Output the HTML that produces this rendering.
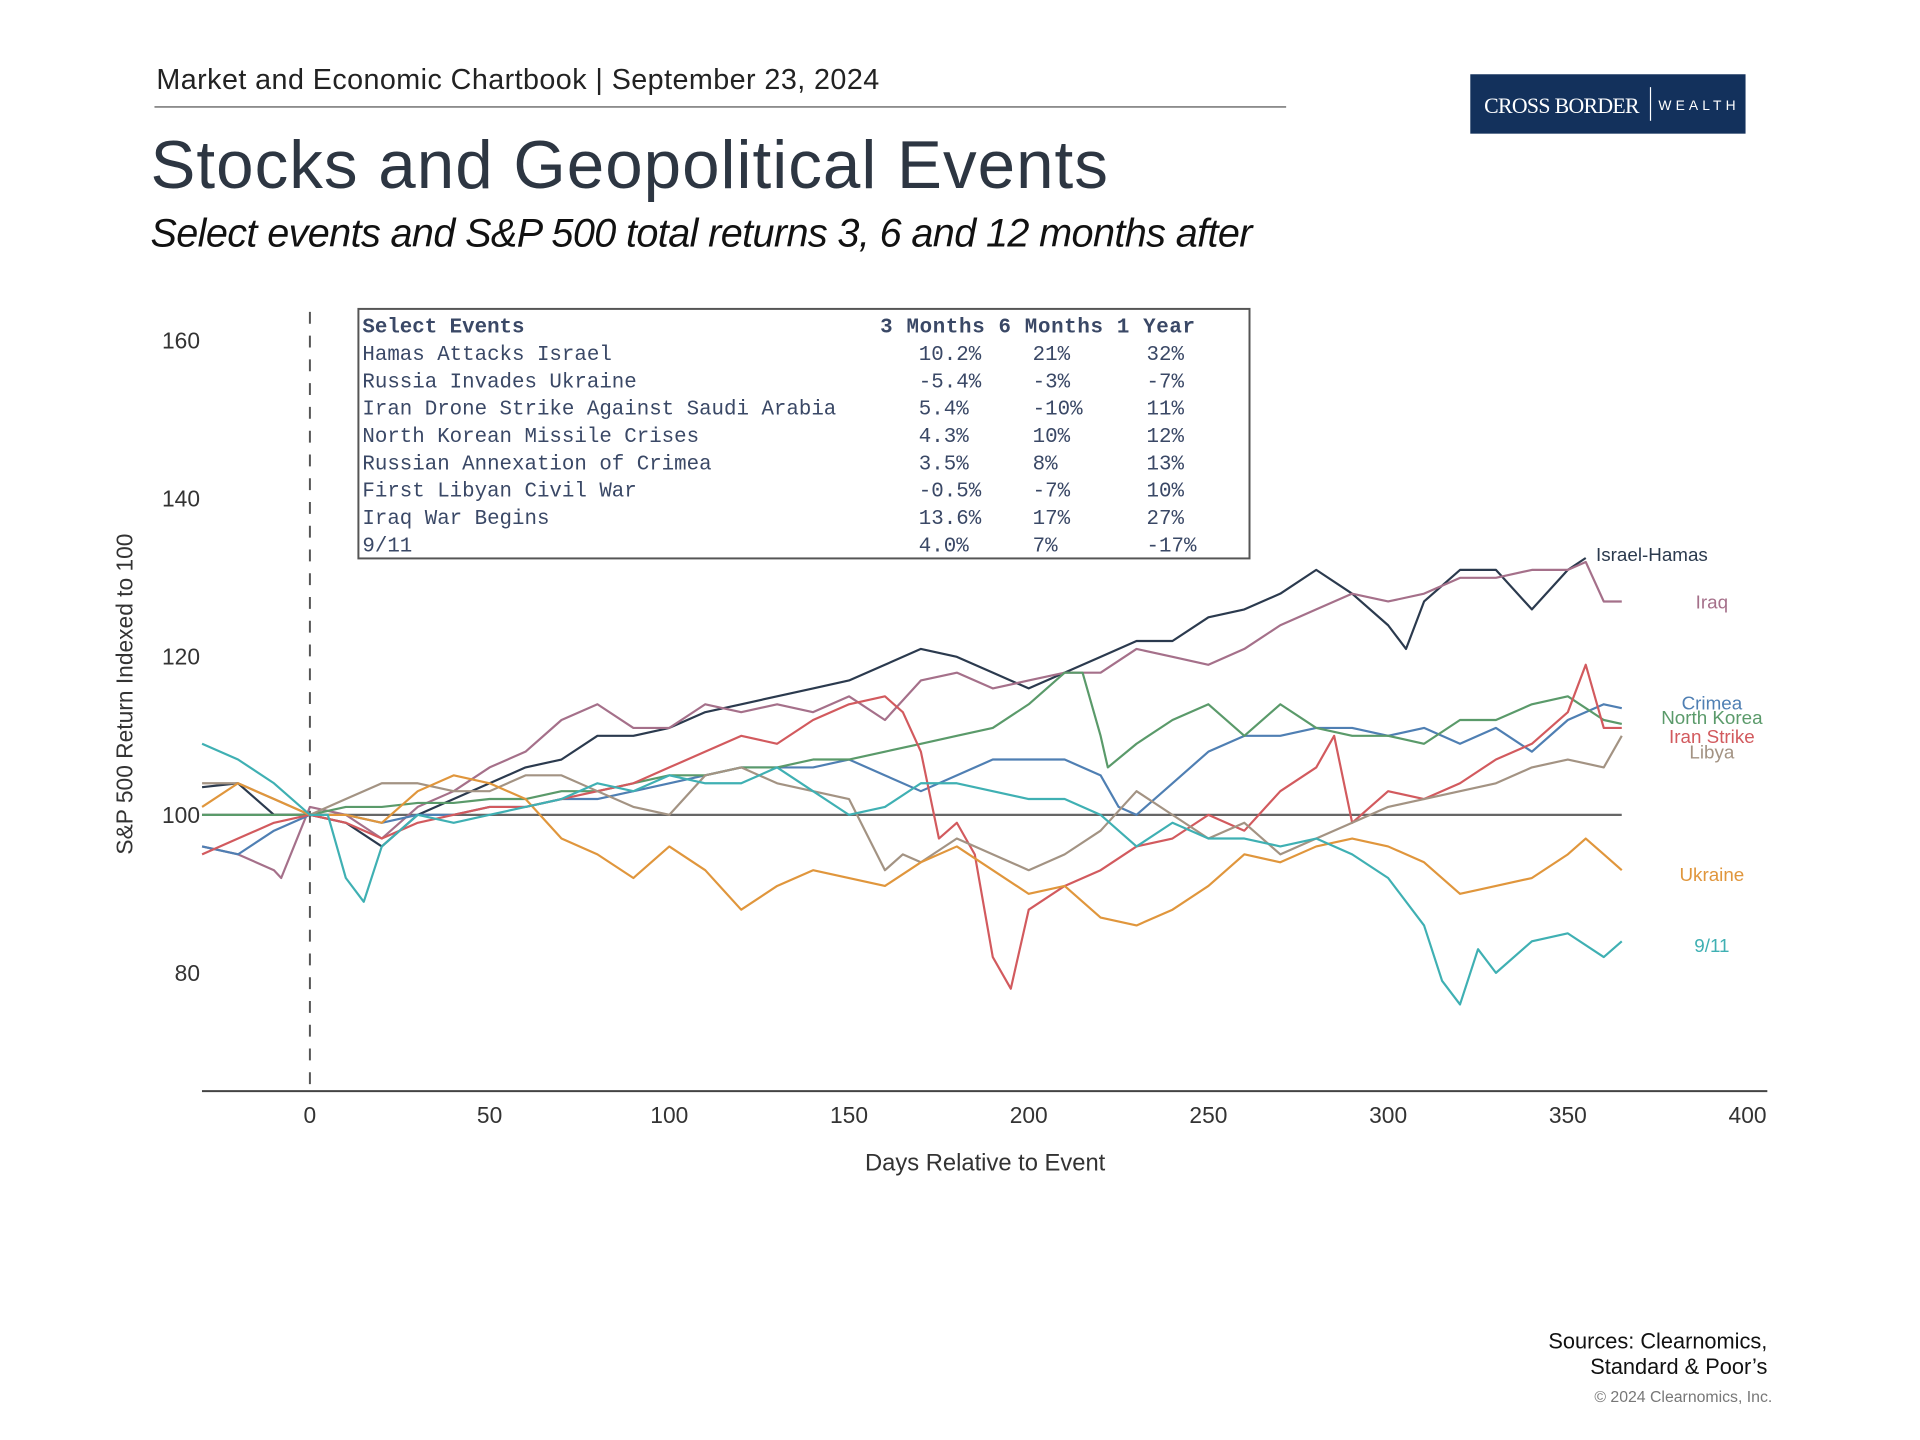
<!DOCTYPE html>
<html><head><meta charset="utf-8"><style>
html,body{margin:0;padding:0;background:#fff;}
svg{display:block;font-family:"Liberation Sans",sans-serif;}
</style></head><body>
<svg id="page" width="1920" height="1440" viewBox="0 0 1920 1440">
<g transform="scale(0.9901)">
<text x="158" y="90" font-size="29" fill="#222" textLength="730">Market and Economic Chartbook | September 23, 2024</text>
<line x1="156" y1="108" x2="1299" y2="108" stroke="#666" stroke-width="1.5"/>
<g>
<rect x="1485" y="75" width="278" height="60" fill="#13315c"/>
<text x="1499" y="114" font-family="Liberation Serif,serif" font-size="22" fill="#fff" textLength="157">CROSS BORDER</text>
<line x1="1667" y1="88" x2="1667" y2="122" stroke="#fff" stroke-width="1.2"/>
<text x="1675" y="111" font-size="14" fill="#fff" textLength="78">WEALTH</text>
</g>
<text x="152" y="190" font-size="68" fill="#2d3642" textLength="967">Stocks and Geopolitical Events</text>
<text x="152" y="249" font-size="40" font-style="italic" fill="#111" textLength="1113">Select events and S&amp;P 500 total returns 3, 6 and 12 months after</text>

<g id="axes"></g>
<g id="series"></g>

<g font-family="Liberation Mono,monospace" font-size="21" fill="#3a4866">
<rect x="362" y="312" width="900" height="252" fill="#fff" stroke="#555" stroke-width="2"/>
<g id="tablerows"></g>
</g>

<text x="1785" y="1362" font-size="22" text-anchor="end" fill="#111">Sources: Clearnomics,</text>
<text x="1785" y="1388" font-size="22" text-anchor="end" fill="#111">Standard &amp; Poor’s</text>
<text x="1790" y="1416" font-size="16" text-anchor="end" fill="#777">© 2024 Clearnomics, Inc.</text>
</g>
</svg>
<script>
const NS='http://www.w3.org/2000/svg';
const xTicks=[0,50,100,150,200,250,300,350,400];
const yTicks=[80,100,120,140,160];
const seriesNames=['Israel-Hamas','Iraq','Crimea','North Korea','Iran Strike','Libya','Ukraine','9/11'];
const seriesColors=['#2b3a4e','#a5708a','#4f7fb3','#5a9a6a','#d25a5e','#a39383','#e0963c','#3fb0b3'];
const daysIsrael=[-30,-20,-10,0,10,20,30,40,50,60,70,80,90,100,110,120,130,140,150,160,170,180,190,200,210,220,230,240,250,260,270,280,290,300,305,310,320,330,340,350,355];
const valsIsrael=[103.5,104,100,100,99,96,100,102,104,106,107,110,110,111,113,114,115,116,117,119,121,120,118,116,118,120,122,122,125,126,128,131,128,124,121,127,131,131,126,131,132.5];
const daysIraq=[-30,-20,-10,-8,0,10,20,30,40,50,60,70,80,90,100,110,120,130,140,150,160,170,180,190,200,210,220,230,240,250,260,270,280,290,300,310,320,330,340,350,355,360,365];
const valsIraq=[96,95,93,92,101,100,97,101,103,106,108,112,114,111,111,114,113,114,113,115,112,117,118,116,117,118,118,121,120,119,121,124,126,128,127,128,130,130,131,131,132,127,127];
const daysCrimea=[-30,-20,-10,0,10,20,30,40,50,60,70,80,90,100,110,120,130,140,150,160,170,180,190,200,210,220,225,230,240,250,260,270,280,290,300,310,320,330,340,350,360,365];
const valsCrimea=[96,95,98,100,100,99,100,100,101,101,102,102,103,104,105,106,106,106,107,105,103,105,107,107,107,105,101,100,104,108,110,110,111,111,110,111,109,111,108,112,114,113.5];
const daysKorea=[-30,-20,-10,0,10,20,30,40,50,60,70,80,90,100,110,120,130,140,150,160,170,180,190,200,210,215,220,222,230,240,250,260,270,280,290,300,310,320,330,340,350,360,365];
const valsKorea=[100,100,100,100,101,101,101.5,101.5,102,102,103,103,104,105,105,106,106,107,107,108,109,110,111,114,118,118,110,106,109,112,114,110,114,111,110,110,109,112,112,114,115,112,111.5];
const daysIran=[-30,-20,-10,0,10,20,30,40,50,60,70,80,90,100,110,120,130,140,150,160,165,170,175,180,185,190,195,200,210,220,230,240,250,260,270,280,285,290,300,310,320,330,340,350,355,360,365];
const valsIran=[95,97,99,100,99,97,99,100,101,101,102,103,104,106,108,110,109,112,114,115,113,108,97,99,95,82,78,88,91,93,96,97,100,98,103,106,110,99,103,102,104,107,109,113,119,111,111];
const daysLibya=[-30,-20,-10,0,10,20,30,40,50,60,70,80,90,100,110,120,130,140,150,160,165,170,180,190,200,210,220,230,240,250,260,270,280,290,300,310,320,330,340,350,360,365];
const valsLibya=[104,104,102,100,102,104,104,103,103,105,105,103,101,100,105,106,104,103,102,93,95,94,97,95,93,95,98,103,100,97,99,95,97,99,101,102,103,104,106,107,106,110];
const daysUkraine=[-30,-20,-10,0,10,20,30,40,50,60,70,80,90,100,110,120,130,140,150,160,170,180,190,200,210,220,230,240,250,260,270,280,290,300,310,320,330,340,350,355,360,365];
const valsUkraine=[101,104,102,100,100,99,103,105,104,102,97,95,92,96,93,88,91,93,92,91,94,96,93,90,91,87,86,88,91,95,94,96,97,96,94,90,91,92,95,97,95,93];
const days911=[-30,-20,-10,0,5,10,15,20,30,40,50,60,70,80,90,100,110,120,130,140,150,160,170,180,190,200,210,220,230,240,250,260,270,280,290,300,310,315,320,325,330,340,350,360,365];
const vals911=[109,107,104,100,100,92,89,96,100,99,100,101,102,104,103,105,104,104,106,103,100,101,104,104,103,102,102,100,96,99,97,97,96,97,95,92,86,79,76,83,80,84,85,82,84];
const seriesDays=[daysIsrael,daysIraq,daysCrimea,daysKorea,daysIran,daysLibya,daysUkraine,days911];
const seriesVals=[valsIsrael,valsIraq,valsCrimea,valsKorea,valsIran,valsLibya,valsUkraine,vals911];
const seriesLabelValues=[133,127,114.2,112.4,110,108,92.5,83.5];
const tableHeader=['Select Events','3 Months','6 Months','1 Year'];
const tableEvents=['Hamas Attacks Israel','Russia Invades Ukraine','Iran Drone Strike Against Saudi Arabia','North Korean Missile Crises','Russian Annexation of Crimea','First Libyan Civil War','Iraq War Begins','9/11'];
const table3m=['10.2%','-5.4%','5.4%','4.3%','3.5%','-0.5%','13.6%','4.0%'];
const table6m=['21%','-3%','-10%','10%','8%','-7%','17%','7%'];
const table1y=['32%','-7%','11%','12%','13%','10%','27%','-17%'];

const xs=d=>313+d*3.63;
const ys=v=>823-(v-100)*7.98;
function mk(tag,attrs,parent,txt){const e=document.createElementNS(NS,tag);for(const k in attrs)e.setAttribute(k,attrs[k]);if(txt!==undefined)e.textContent=txt;parent.appendChild(e);return e;}
const axes=document.getElementById('axes');
let e;
e=mk('line',{x1:204,y1:1102,x2:1785,y2:1102,stroke:'#444','stroke-width':2},axes);


xTicks.forEach(t=>{e=mk('text',{x:xs(t),y:1134,'font-size':23,'text-anchor':'middle',fill:'#333'},axes,t);

});
yTicks.forEach(t=>{e=mk('text',{x:202,y:ys(t)+8,'font-size':23,'text-anchor':'end',fill:'#333'},axes,t);

});
e=mk('line',{x1:xs(0),y1:315,x2:xs(0),y2:1095,stroke:'#555','stroke-width':2,'stroke-dasharray':'12,12'},axes);


e=mk('line',{x1:204,y1:ys(100),x2:xs(365),y2:ys(100),stroke:'#666','stroke-width':2.2},axes);


e=mk('text',{x:995,y:1182,'font-size':24,'text-anchor':'middle',fill:'#333'},axes,'Days Relative to Event');


e=mk('text',{x:0,y:0,'font-size':23,'text-anchor':'middle',fill:'#333',transform:'translate(134,701) rotate(-90)'},axes,'S&P 500 Return Indexed to 100');



const sg=document.getElementById('series');
seriesNames.forEach((n,i)=>{
  const d=seriesDays[i],v=seriesVals[i];
  const pts=d.map((dd,j)=>xs(dd).toFixed(1)+','+ys(v[j]).toFixed(1)).join(' ');
  const p=mk('polyline',{points:pts,fill:'none',stroke:seriesColors[i],'stroke-width':2.2,'stroke-linejoin':'round'},sg);
  
  
});
seriesNames.forEach((n,i)=>{
  const isI=i===0;
  const t=mk('text',{x:isI?1612:1729,y:ys(seriesLabelValues[i])+7,'font-size':19,'text-anchor':isI?'start':'middle',fill:seriesColors[i]},sg,n);
  
  
});
const tr=document.getElementById('tablerows');
const r0=336,rh=27.6;
e=mk('text',{x:366,y:r0,'font-weight':'bold'},tr,tableHeader[0]);


e=mk('text',{x:889,y:r0,'font-weight':'bold','xml:space':'preserve',textLength:318},tr,tableHeader[1]+'  '+tableHeader[2]+' '+tableHeader[3]);


tableEvents.forEach((ev,i)=>{
  const y=r0+rh*(i+1);
  e=mk('text',{x:366,y:y},tr,ev);
  
  
  e=mk('text',{x:928,y:y},tr,table3m[i]);
  
  
  e=mk('text',{x:1043,y:y},tr,table6m[i]);
  
  
  e=mk('text',{x:1158,y:y},tr,table1y[i]);
  
  
});
</script>
</body></html>
